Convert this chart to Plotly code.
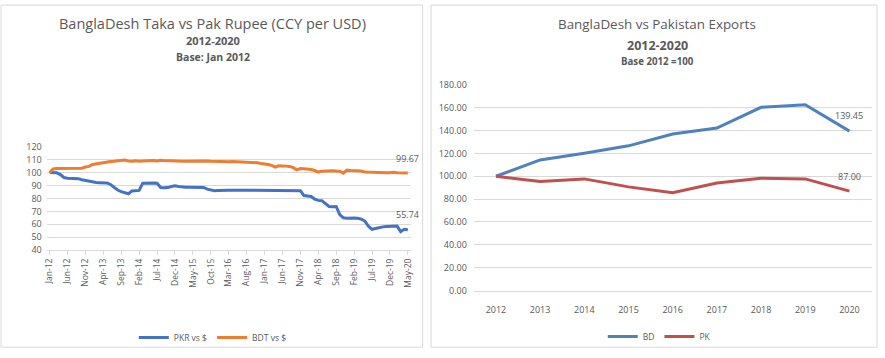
import plotly.graph_objects as go
import pandas as pd

# ---------------- data ----------------
months = [d.strftime("%b-%y") for d in pd.date_range("2012-01-01", "2020-05-01", freq="MS")]
month_ticks = months[::5]

pkr = [100, 100, 99.8, 98.5, 96.2, 95.7, 95.5, 95.5, 95.3, 94.5,
       93.8, 93.2, 92.6, 92.3, 92.2, 92.2, 92.0, 90.8, 88.5, 86.5,
       85.2, 84.5, 83.6, 85.8, 86.0, 86.2, 91.8, 92.0, 92.0, 92.0,
       91.8, 88.5, 88.2, 88.4, 89.2, 89.7, 89.2, 88.8, 88.6, 88.6,
       88.6, 88.6, 88.6, 88.5, 87.2, 86.3, 86.0, 86.2, 86.4, 86.4,
       86.4, 86.4, 86.4, 86.4, 86.4, 86.4, 86.4, 86.4, 86.4, 86.4,
       86.4, 86.4, 86.4, 86.4, 86.4, 86.4, 86.2, 86.0, 86.0, 86.0,
       86.0, 82.2, 82.0, 81.5, 79.5, 78.5, 78.3, 76.0, 73.8, 73.6,
       73.8, 67.5, 65.0, 64.6, 64.8, 64.8, 64.6, 64.0, 62.5, 58.5,
       56.1, 56.8, 57.8, 58.0, 58.2, 58.3, 58.4, 58.6, 54.3, 56.1, 55.74]

bdt = [100, 102.8, 103.2, 103.2, 103.2, 103.2, 103.2, 103.2, 103.2, 103.4,
       104.3, 104.8, 106.3, 106.8, 107.2, 108.0, 108.2, 108.6, 108.8, 109.2,
       109.4, 109.7, 109.0, 108.8, 109.2, 108.8, 109.0, 109.2, 108.9, 109.3,
       109.0, 109.6, 109.4, 109.2, 109.0, 108.8, 109.0, 108.8, 108.8, 108.9,
       109.0, 109.2, 109.3, 109.3, 109.0, 108.8, 108.6, 108.4, 108.2, 108.1,
       108.3, 108.6, 108.5, 108.3, 108.3, 108.4, 108.3, 108.2, 107.6, 107.1,
       106.8, 106.3, 105.6, 104.3, 105.2, 105.3, 105.0, 104.8, 103.8, 102.1,
       103.1, 102.9, 102.9, 102.4, 101.6, 100.4, 101.1, 101.3, 101.4, 101.4,
       101.2, 101.1, 99.6, 101.9, 101.6, 101.5, 101.4, 101.2, 100.4, 100.4,
       100.2, 100.1, 100.0, 100.0, 99.9, 99.8, 100.3, 99.9, 99.8, 99.7, 99.67]

years = ["2012", "2013", "2014", "2015", "2016", "2017", "2018", "2019", "2020"]
bd = [100, 114.3, 120.2, 126.6, 137.0, 142.1, 160.3, 162.6, 139.45]
pk = [100, 95.5, 97.7, 90.7, 85.6, 94.1, 98.3, 97.7, 87.00]

# ---------------- figure ----------------
W, H = 885, 358
def px(x): return x / W
def py(y): return 1 - y / H

TXT = "#595959"
GRID = "#D9D9D9"
FONT = "Open Sans"

fig = go.Figure()
fig.add_trace(go.Scatter(x=months, y=pkr, name="PKR vs $", mode="lines",
                         line=dict(color="#4472C4", width=3), xaxis="x", yaxis="y", legend="legend"))
fig.add_trace(go.Scatter(x=months, y=bdt, name="BDT vs $", mode="lines",
                         line=dict(color="#ED7D31", width=3), xaxis="x", yaxis="y", legend="legend"))
fig.add_trace(go.Scatter(x=years, y=bd, name="BD", mode="lines",
                         line=dict(color="#4F81BD", width=3), xaxis="x2", yaxis="y2", legend="legend2"))
fig.add_trace(go.Scatter(x=years, y=pk, name="PK", mode="lines",
                         line=dict(color="#C0504D", width=3), xaxis="x2", yaxis="y2", legend="legend2"))

tickfont = dict(family=FONT, size=9, color=TXT)

fig.update_layout(
    width=W, height=H,
    margin=dict(l=0, r=0, t=0, b=0, pad=0),
    paper_bgcolor="white", plot_bgcolor="white",
    font=dict(family=FONT, color=TXT),
    xaxis=dict(domain=[px(44), px(410)], type="category", range=[-0.8, len(months) - 0.2],
               tickmode="array", tickvals=month_ticks, ticktext=month_ticks,
               tickangle=-90, tickfont=dict(family=FONT, size=8.5, color=TXT),
               showgrid=False, zeroline=False,
               showline=True, linecolor=GRID, ticks="outside", ticklen=4, tickcolor=GRID,
               anchor="y"),
    yaxis=dict(domain=[py(252.3), py(145)], range=[40, 120], dtick=10,
               tickfont=tickfont, gridcolor=GRID, zeroline=False, showline=False,
               anchor="x", ticklabelstandoff=4),
    xaxis2=dict(domain=[px(473.5), px(873.5)], type="category", range=[-0.5, 8.5],
                tickfont=tickfont, showgrid=False, zeroline=False, showline=True, linecolor=GRID,
                anchor="y2", ticklabelstandoff=11),
    yaxis2=dict(domain=[py(294.3), py(80.7)], range=[0, 180], dtick=20, tickformat=".2f",
                tickfont=tickfont, gridcolor=GRID, zeroline=False, showline=False,
                anchor="x2", ticklabelstandoff=6),
    legend=dict(orientation="h", x=px(211), y=py(343), xanchor="center", yanchor="middle",
                font=dict(family=FONT, size=8.5, color=TXT), bgcolor="rgba(0,0,0,0)",
                itemwidth=30),
    legend2=dict(orientation="h", x=px(660), y=py(342), xanchor="center", yanchor="middle",
                 font=dict(family=FONT, size=8.5, color=TXT), bgcolor="rgba(0,0,0,0)",
                 itemwidth=30),
    showlegend=True,
)

# panel borders
fig.add_shape(type="rect", xref="paper", yref="paper", x0=px(-2), x1=px(422), y0=py(353), y1=py(-2),
              line=dict(color=GRID, width=1), layer="below")
fig.add_shape(type="rect", xref="paper", yref="paper", x0=px(430.5), x1=px(879), y0=py(353), y1=py(-2),
              line=dict(color=GRID, width=1), layer="below")

# titles
def title(text, x, y, size, bold=False):
    fig.add_annotation(text=f"<b>{text}</b>" if bold else text, xref="paper", yref="paper",
                       x=px(x), y=py(y), showarrow=False, xanchor="center", yanchor="middle",
                       font=dict(family=FONT, size=size, color=TXT))

title("BanglaDesh Taka vs Pak Rupee (CCY per USD)", 211, 17, 14.5)
title("2012-2020", 211, 35, 11, bold=True)
title("Base: Jan 2012", 211, 52, 10.5, bold=True)
title("BanglaDesh vs Pakistan Exports", 658, 18, 13.4)
title("2012-2020", 658, 40, 12.5, bold=True)
title("Base 2012 =100", 658, 57, 9.7, bold=True)

# end-value labels
lblfont = dict(family=FONT, size=9, color=TXT)
fig.add_annotation(x=len(months) - 1, y=bdt[-1], xref="x", yref="y", text=f"{bdt[-1]:.2f}",
                   showarrow=False, yshift=15, font=lblfont)
fig.add_annotation(x=len(months) - 1, y=pkr[-1], xref="x", yref="y", text=f"{pkr[-1]:.2f}",
                   showarrow=False, yshift=15, font=lblfont)
fig.add_annotation(x=len(years) - 1, y=bd[-1], xref="x2", yref="y2", text=f"{bd[-1]:.2f}",
                   showarrow=False, yshift=16, font=lblfont)
fig.add_annotation(x=len(years) - 1, y=pk[-1], xref="x2", yref="y2", text=f"{pk[-1]:.2f}",
                   showarrow=False, yshift=15, font=lblfont)

fig.write_html("out.html", config={"displayModeBar": False},
               post_script="document.body.style.margin='0px';document.body.style.overflow='hidden';")
